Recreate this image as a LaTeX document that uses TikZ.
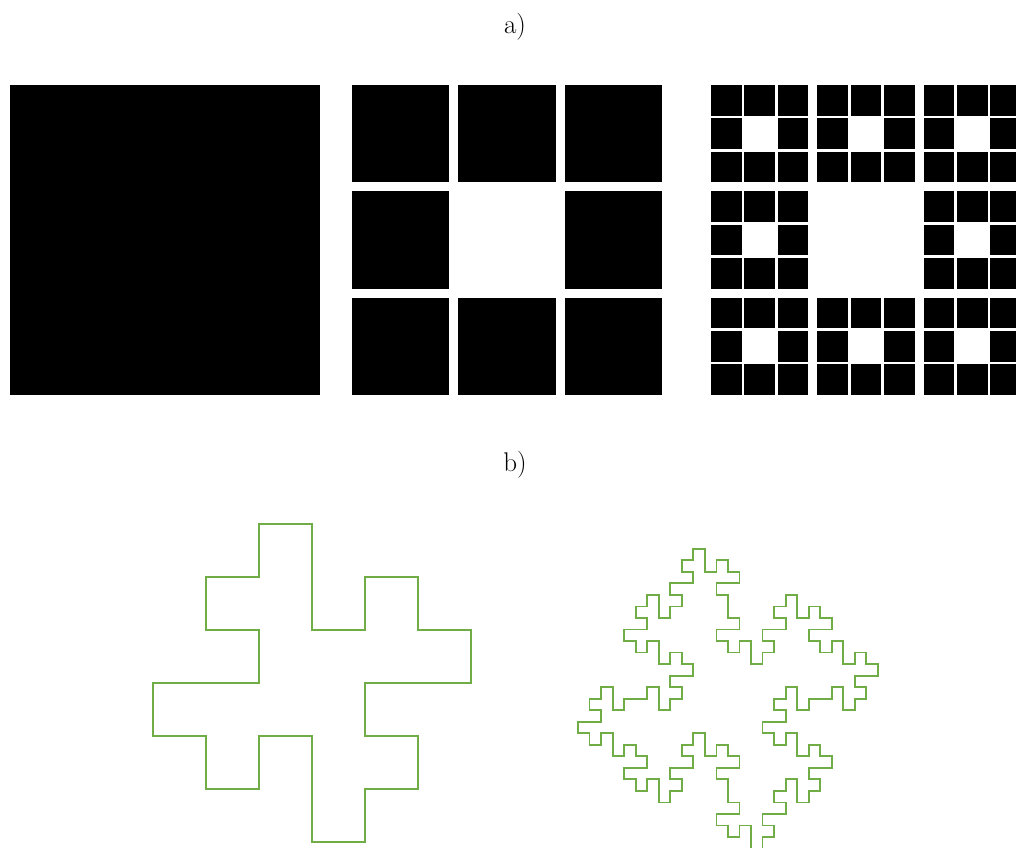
\documentclass[tikz,border=0pt]{standalone}
\usepackage{fontspec}
\usetikzlibrary{lindenmayersystems}
\pgfdeclarelindenmayersystem{Minkowski}{\rule{F -> F+F-F-FF+F+F-F}}
\definecolor{curvegreen}{RGB}{112,173,71}
\tikzset{
  lab/.style={anchor=base, inner sep=0pt, font=\fontsize{27}{32}\selectfont},
  sq/.style={fill=black},
  curve/.style={draw=curvegreen, line width=1.8pt, line join=miter},
}
\begin{document}
\begin{tikzpicture}[x=1pt,y=1pt]
\clip (0,0) rectangle (1016,847);
% labels
\node[lab] (la) at (515,813.7) {a)};
\node[lab] (lb) at (515,375.3) {b)};
% carpet level 0
\fill[sq] (10,452) rectangle (320,762);
% carpet level 1
\foreach \i/\j in {0/0,1/0,2/0,0/1,2/1,0/2,1/2,2/2}
  \fill[sq] ({352+\i*106.33},{664.67-\j*106.33}) rectangle +(97.33,97.33);
% carpet level 2
\foreach \I/\J in {0/0,1/0,2/0,0/1,2/1,0/2,1/2,2/2}
  \foreach \k/\l in {0/0,1/0,2/0,0/1,2/1,0/2,1/2,2/2}
    \fill[sq] ({711+\I*106.33+\k*33.3},{731.3-\J*106.33-\l*33.3}) rectangle +(30.7,30.7);
% Minkowski islands
\begin{scope}[shift={(206.25,57.95)}]
\draw[curve] (0,0) [l-system={Minkowski, axiom=F+F+F+F, order=1, step=52.95pt, angle=90}] lindenmayer system -- cycle;
\end{scope}
\begin{scope}[shift={(635.7,56.1)}]
\draw[curve] (0,0) [l-system={Minkowski, axiom=F+F+F+F, order=2, step=11.53pt, angle=90}] lindenmayer system -- cycle;
\end{scope}
\end{tikzpicture}
\end{document}
